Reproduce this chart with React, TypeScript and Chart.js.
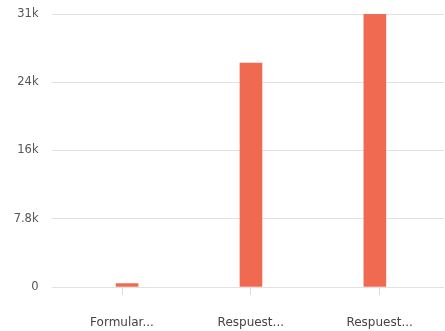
import React, { useEffect, useRef } from "react";
import { Chart, registerables } from "chart.js";

Chart.register(...registerables);

const categories = ["Formular...", "Respuest...", "Respuest..."];
const values = [380, 25600, 31200];
const yTickLabels = ["0", "7.8k", "16k", "24k", "31k"];
const yMax = 31200;
const yStep = 7800;

export default function App() {
  const ref = useRef<HTMLCanvasElement | null>(null);
  useEffect(() => {
    document.body.style.margin = "0";
    const ctx = ref.current!;
    const chart = new Chart(ctx, {
      type: "bar",
      data: {
        labels: categories,
        datasets: [
          {
            data: values.map((v, i) => ({ x: i, y: v })),
            backgroundColor: "#F06A51",
            borderWidth: 0,
            barThickness: 22,
            xAxisID: "xb",
          } as any,
        ],
      },
      options: {
        animation: false,
        responsive: false,
        maintainAspectRatio: false,
        layout: { padding: { top: 14, right: 1, bottom: 2, left: 0 } },
        plugins: { legend: { display: false }, tooltip: { enabled: false } },
        scales: {
          x: {
            type: "category",
            labels: categories,
            offset: true,
            afterFit: (axis: any) => {
              axis.height = 42;
              axis.paddingLeft = 0;
              axis.paddingRight = 0;
            },
            grid: {
              offset: false,
              drawOnChartArea: false,
              drawTicks: true,
              tickLength: 8,
              tickColor: "#dddddd",
            },
            border: { display: false },
            ticks: {
              color: "#444444",
              padding: 21,
              maxRotation: 0,
              autoSkip: false,
              font: { family: "'DejaVu Sans'", size: 12 },
            },
          },
          xb: {
            type: "linear",
            display: false,
            min: -0.561,
            max: 2.558,
            offset: false,
          },
          y: {
            min: 0,
            max: yMax,
            afterFit: (axis: any) => {
              axis.width = 57.6;
              axis.paddingTop = 0;
              axis.paddingBottom = 0;
            },
            afterBuildTicks: (axis: any) => {
              const t = [];
              for (let v = 0; v <= yMax + 1; v += yStep) t.push({ value: v });
              axis.ticks = t;
            },
            grid: {
              color: "#e2e2e2",
              lineWidth: 1,
              tickLength: 6,
              tickColor: "#e2e2e2",
            },
            border: { display: false },
            ticks: {
              color: "#555555",
              padding: 13,
              font: { family: "'DejaVu Sans'", size: 11.5 },
              callback: (_v: any, i: number) => yTickLabels[i],
            },
          },
        },
      },
    });
    return () => chart.destroy();
  }, []);
  return (
    <div style={{ width: 445, height: 331 }}>
      <canvas ref={ref} width={445} height={331} />
    </div>
  );
}
